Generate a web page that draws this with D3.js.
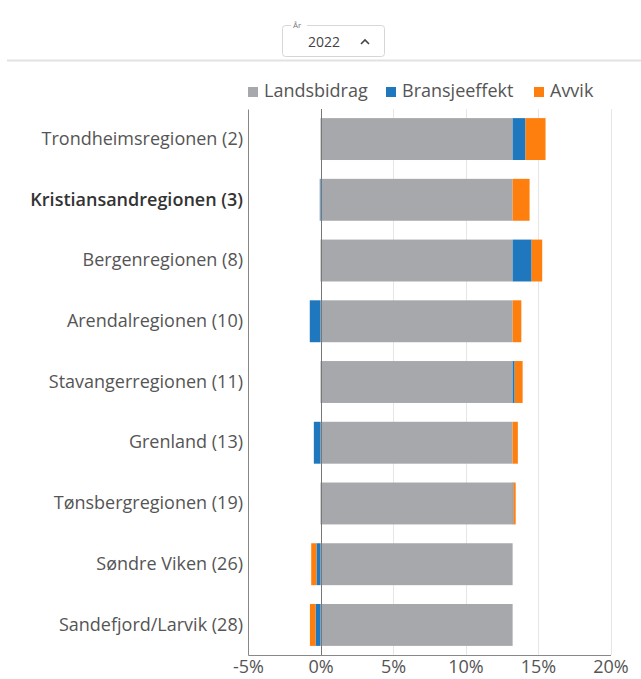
<!DOCTYPE html>
<html>
<head>
<meta charset="utf-8">
<script src="https://cdn.jsdelivr.net/npm/d3@7"></script>
<style>
  body { margin: 0; background: #fff; font-family: "Open Sans", sans-serif; }
  svg { display: block; }
</style>
</head>
<body>
<div id="chart"></div>
<script>
// data
const regions = [
  "Trondheimsregionen (2)",
  "Kristiansandregionen (3)",
  "Bergenregionen (8)",
  "Arendalregionen (10)",
  "Stavangerregionen (11)",
  "Grenland (13)",
  "Tønsbergregionen (19)",
  "Søndre Viken (26)",
  "Sandefjord/Larvik (28)",
];
const landsbidrag = [13.25, 13.25, 13.25, 13.25, 13.25, 13.25, 13.25, 13.25, 13.25];
const bransjeeffekt = [0.89, -0.05, 1.31, -0.74, 0.14, -0.46, 0.05, -0.28, -0.34];
const avvik = [1.38, 1.17, 0.73, 0.6, 0.55, 0.36, 0.16, -0.36, -0.39];
const seriesNames = ["Landsbidrag", "Bransjeeffekt", "Avvik"];
const seriesColors = ["#a6a8ab", "#1f78bd", "#ff7f0e"];
const xTicks = [-5, 0, 5, 10, 15, 20];
const highlighted = "Kristiansandregionen (3)";
const yearLabel = "2022";

const width = 641, height = 679;
const margin = { top: 109, right: 30, bottom: 24, left: 248 };

const svg = d3.select("#chart").append("svg")
  .attr("width", width)
  .attr("height", height);

// header with year selector
svg.append("line")
  .attr("x1", 7).attr("x2", width)
  .attr("y1", 60.5).attr("y2", 60.5)
  .attr("stroke", "#e2e2e2")
  .attr("stroke-width", 2);

const sel = svg.append("g").attr("transform", "translate(282,25)");
sel.append("rect")
  .attr("x", 0.5).attr("y", 0.5)
  .attr("width", 102).attr("height", 31)
  .attr("rx", 3)
  .attr("fill", "#fff")
  .attr("stroke", "#d6d6d6");
sel.append("rect")
  .attr("x", 9).attr("y", -2)
  .attr("width", 16).attr("height", 5)
  .attr("fill", "#fff");
sel.append("text")
  .attr("x", 11).attr("y", 3)
  .attr("font-size", 8)
  .attr("fill", "#777")
  .text("År");
sel.append("text")
  .attr("x", 42).attr("y", 22)
  .attr("text-anchor", "middle")
  .attr("font-size", 14)
  .attr("fill", "#444")
  .text(yearLabel);
sel.append("path")
  .attr("d", "M79,19 L83,15 L87,19")
  .attr("fill", "none")
  .attr("stroke", "#444")
  .attr("stroke-width", 1.6);

// table for stack
const table = regions.map((r, i) => ({
  region: r,
  Landsbidrag: landsbidrag[i],
  Bransjeeffekt: bransjeeffekt[i],
  Avvik: avvik[i],
}));

const stacked = d3.stack()
  .keys(seriesNames)
  .offset(d3.stackOffsetDiverging)(table);

const x = d3.scaleLinear()
  .domain([-5, 20])
  .range([margin.left, width - margin.right - 0.5]);

const y = d3.scaleBand()
  .domain(regions)
  .range([margin.top, height - margin.bottom])
  .paddingInner(0.31)
  .paddingOuter(0.15);

const color = d3.scaleOrdinal().domain(seriesNames).range(seriesColors);

// gridlines
svg.append("g")
  .selectAll("line")
  .data(xTicks.filter((t) => t > 0))
  .join("line")
  .attr("x1", (d) => Math.round(x(d)) + 0.5)
  .attr("x2", (d) => Math.round(x(d)) + 0.5)
  .attr("y1", margin.top)
  .attr("y2", height - margin.bottom)
  .attr("stroke", "#e6e6e6");

// bars
svg.append("g")
  .selectAll("g")
  .data(stacked)
  .join("g")
  .attr("fill", (d) => color(d.key))
  .selectAll("rect")
  .data((d) => d)
  .join("rect")
  .attr("x", (d) => x(Math.min(d[0], d[1])))
  .attr("y", (d) => y(d.data.region))
  .attr("width", (d) => Math.abs(x(d[1]) - x(d[0])))
  .attr("height", y.bandwidth());

// zero line
svg.append("line")
  .attr("x1", Math.round(x(0)) + 0.5)
  .attr("x2", Math.round(x(0)) + 0.5)
  .attr("y1", margin.top)
  .attr("y2", height - margin.bottom)
  .attr("stroke", "#777");

// x axis
const xAxis = svg.append("g")
  .attr("transform", `translate(0,${height - margin.bottom})`)
  .call(d3.axisBottom(x).tickValues(xTicks).tickSize(0).tickPadding(5)
    .tickFormat((d) => (d < 0 ? "-" + Math.abs(d) : d) + "%"));
xAxis.select(".domain").attr("stroke", "#888");
xAxis.selectAll("text")
  .attr("font-family", "'Open Sans', sans-serif")
  .attr("font-size", 18)
  .attr("fill", "#555");

// y axis
const yAxis = svg.append("g")
  .attr("transform", `translate(${margin.left},0)`)
  .call(d3.axisLeft(y).tickSize(0).tickPadding(5));
yAxis.select(".domain").attr("stroke", "#888");
yAxis.selectAll("text")
  .attr("font-family", "'Open Sans', sans-serif")
  .attr("font-size", 18)
  .attr("fill", (d) => (d === highlighted ? "#333" : "#555"))
  .attr("font-weight", (d) => (d === highlighted ? 600 : 400));

// legend
const legendX = [248, 386, 534];
const legend = svg.append("g")
  .selectAll("g")
  .data(seriesNames)
  .join("g")
  .attr("transform", (d, i) => `translate(${legendX[i]},86)`);
legend.append("rect")
  .attr("width", 10).attr("height", 10)
  .attr("y", 1)
  .attr("fill", (d) => color(d));
legend.append("text")
  .attr("x", 16).attr("y", 11)
  .attr("font-size", 18)
  .attr("fill", "#555")
  .text((d) => d);
</script>
</body>
</html>
